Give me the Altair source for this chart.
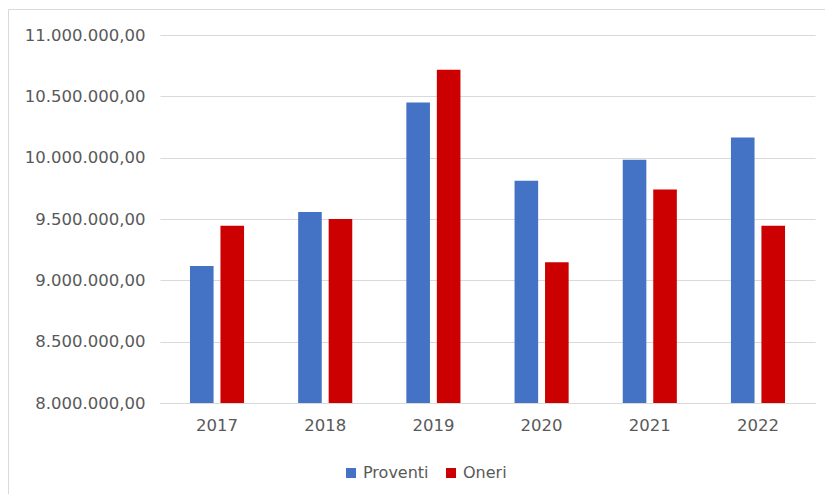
import altair as alt
import pandas as pd

years = ["2017", "2018", "2019", "2020", "2021", "2022"]
proventi = [9117000, 9558000, 10450000, 9811000, 9982000, 10165000]
oneri = [9444000, 9501000, 10716000, 9148000, 9741000, 9444000]
series = ["Proventi", "Oneri"]
colors = ["#4472C4", "#CC0000"]
y_ticks = [8000000, 8500000, 9000000, 9500000, 10000000, 10500000, 11000000]

rows = []
for i, yr in enumerate(years):
    rows.append({"year": yr, "serie": "Proventi", "value": proventi[i]})
    rows.append({"year": yr, "serie": "Oneri", "value": oneri[i]})
df = pd.DataFrame(rows)

FONT = "DejaVu Sans"
TXT = "#595959"
GRID = "#d9d9d9"

frame = alt.Chart(pd.DataFrame({"a": [0]})).mark_rect(
    fill="transparent", stroke=GRID, strokeWidth=1
).encode(
    x=alt.value(-151.5), x2=alt.value(720), y=alt.value(-25.5), y2=alt.value(520)
)

bars = alt.Chart(df).mark_bar().encode(
    x=alt.X(
        "year:N", sort=years,
        scale=alt.Scale(paddingInner=0.5, paddingOuter=0.277),
        axis=alt.Axis(title=None, labelAngle=0, ticks=False, domainColor=GRID,
                      labelPadding=14, grid=False),
    ),
    xOffset=alt.XOffset("serie:N", sort=series,
                        scale=alt.Scale(paddingInner=0.226, paddingOuter=0)),
    y=alt.Y(
        "value:Q",
        scale=alt.Scale(domain=[8000000, 11000000], nice=False, zero=False),
        axis=alt.Axis(values=y_ticks, format=",.2f", title=None, ticks=False,
                      domain=False, labelPadding=15, gridColor=GRID),
    ),
    y2=alt.datum(8000000),
    color=alt.Color(
        "serie:N", sort=series,
        scale=alt.Scale(domain=series, range=colors),
        legend=alt.Legend(title=None, orient="none", legendX=183, legendY=430,
                          direction="horizontal", symbolType="square",
                          symbolSize=100, symbolStrokeWidth=0, columnPadding=14,
                          labelOffset=4, labelFontSize=16),
    ),
)

chart = alt.layer(frame, bars).properties(
    width=655, height=368,
    padding={"left": 152, "top": 27, "right": 10, "bottom": 91},
    autosize=alt.AutoSizeParams(type="none"),
).configure(
    locale={"number": {"decimal": ",", "thousands": ".", "grouping": [3],
                       "currency": ["", "\u00a0€"]}}
).configure_view(strokeWidth=0).configure_axis(
    labelFont=FONT, labelFontSize=16.5, labelColor=TXT
).configure_legend(
    labelFont=FONT, labelFontSize=16, labelColor=TXT
)

chart.save("out.html", embed_options={"renderer": "svg", "actions": False})
